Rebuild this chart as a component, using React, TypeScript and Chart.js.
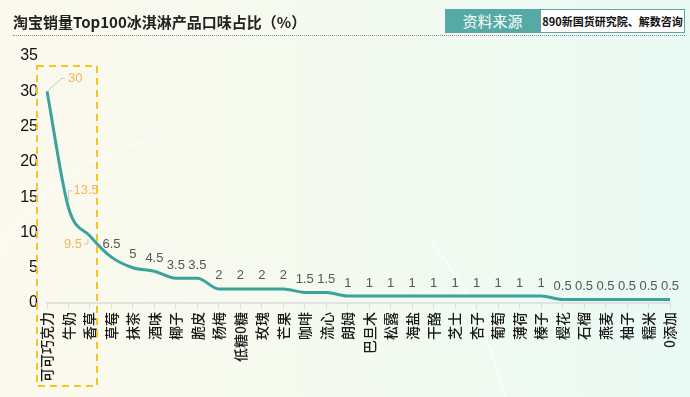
import React, { useEffect, useRef } from "react";
import { Chart, registerables } from "chart.js";

Chart.register(...registerables);

const categories = [
  "可可巧克力", "牛奶", "香草", "草莓", "抹茶", "酒味", "椰子", "脆皮", "杨梅", "低糖0糖",
  "玫瑰", "芒果", "咖啡", "流心", "朗姆", "巴旦木", "松露", "海盐", "干酪", "芝士",
  "杏子", "葡萄", "薄荷", "榛子", "樱花", "石榴", "燕麦", "柚子", "糯米", "0添加",
];
const values = [
  30, 13.5, 9.5, 6.5, 5, 4.5, 3.5, 3.5, 2, 2,
  2, 2, 1.5, 1.5, 1, 1, 1, 1, 1, 1,
  1, 1, 1, 1, 0.5, 0.5, 0.5, 0.5, 0.5, 0.5,
];
const highlightCount = 3;
const yMax = 35;
const yStep = 5;

const FONT = "'Liberation Sans', 'Noto Sans CJK SC', sans-serif";
const CJK = "'Noto Sans CJK SC', 'Liberation Sans', sans-serif";

const bgPlugin = {
  id: "bg",
  beforeDraw(chart: any) {
    const { ctx, width, height } = chart;
    ctx.save();
    const g = ctx.createLinearGradient(0, 0, width, 0);
    g.addColorStop(0, "#fcf9ee");
    g.addColorStop(0.5, "#f4faef");
    g.addColorStop(1, "#eafaf4");
    ctx.fillStyle = g;
    ctx.fillRect(0, 0, width, height);
    ctx.strokeStyle = "rgba(255,255,255,0.8)";
    ctx.lineWidth = 1.2;
    ctx.beginPath();
    ctx.moveTo(430, 240);
    ctx.quadraticCurveTo(480, 300, 505, 397);
    ctx.stroke();
    ctx.beginPath();
    ctx.moveTo(0, 250);
    ctx.quadraticCurveTo(60, 160, 150, 140);
    ctx.stroke();
    ctx.restore();
  },
};

const labelPlugin = {
  id: "vlabels",
  afterDatasetsDraw(chart: any) {
    const { ctx } = chart;
    const meta = chart.getDatasetMeta(0);
    ctx.save();
    ctx.font = `13px ${FONT}`;
    ctx.textBaseline = "middle";
    meta.data.forEach((pt: any, i: number) => {
      const v = values[i];
      const x = pt.x;
      const y = pt.y;
      if (i >= highlightCount) {
        ctx.fillStyle = "#555555";
        ctx.textAlign = "center";
        ctx.fillText(String(v), x, y - 13);
        return;
      }
      ctx.strokeStyle = "#c8c8c8";
      ctx.lineWidth = 1;
      ctx.fillStyle = "#f6b35c";
      ctx.beginPath();
      if (i === 0) {
        ctx.moveTo(x, y);
        ctx.lineTo(x + 15, y - 13);
        ctx.lineTo(x + 18, y - 13);
        ctx.stroke();
        ctx.textAlign = "left";
        ctx.fillText(String(v), x + 21, y - 13);
      } else if (i === 1) {
        ctx.moveTo(x, y - 5);
        ctx.lineTo(x, y - 17);
        ctx.lineTo(x + 4, y - 17);
        ctx.stroke();
        ctx.textAlign = "left";
        ctx.fillText(String(v), x + 5, y - 17);
      } else {
        ctx.moveTo(x - 2, y + 3);
        ctx.lineTo(x - 2, y + 8);
        ctx.lineTo(x - 6, y + 8);
        ctx.stroke();
        ctx.textAlign = "right";
        ctx.fillText(String(v), x - 8, y + 8);
      }
    });
    ctx.restore();
  },
};

const boxPlugin = {
  id: "hbox",
  afterDraw(chart: any) {
    const { ctx } = chart;
    const xs = chart.scales.x;
    const x0 = xs.getPixelForValue(0) - 10;
    const x1 = xs.getPixelForValue(highlightCount - 1) + 7;
    ctx.save();
    ctx.strokeStyle = "#f8c420";
    ctx.lineWidth = 2;
    ctx.setLineDash([7, 5]);
    ctx.strokeRect(x0, 66, x1 - x0, 320);
    ctx.restore();
  },
};

export default function App() {
  const ref = useRef<HTMLCanvasElement | null>(null);
  useEffect(() => {
    if (!ref.current) return;
    const chart = new Chart(ref.current, {
      type: "line",
      data: {
        labels: categories,
        datasets: [
          {
            data: values,
            borderColor: "#3ba39b",
            borderWidth: 3,
            pointRadius: 0,
            cubicInterpolationMode: "monotone",
            fill: false,
          },
        ],
      },
      options: {
        animation: false,
        responsive: false,
        devicePixelRatio: 1,
        layout: { padding: { top: 56, right: 20, bottom: 12, left: 0 } },
        plugins: { legend: { display: false }, tooltip: { enabled: false } },
        scales: {
          x: {
            offset: false,
            grid: {
              display: true,
              drawOnChartArea: false,
              drawTicks: true,
              tickLength: 6,
              color: "#dcdcdc",
            },
            border: { display: true, color: "#e2e2e2", width: 2 },
            ticks: {
              autoSkip: false,
              maxRotation: 90,
              minRotation: 90,
              padding: 3,
              color: "#1a1a1a",
              font: { family: CJK, size: 14, weight: "500" },
            },
          },
          y: {
            min: 0,
            max: yMax,
            afterFit(scale: any) {
              scale.width = 47;
            },
            grid: { display: false, drawTicks: false },
            border: { display: false },
            ticks: {
              stepSize: yStep,
              padding: 9,
              color: "#111111",
              font: { family: FONT, size: 16 },
            },
          },
        },
      },
      plugins: [bgPlugin, labelPlugin, boxPlugin],
    } as any);
    return () => chart.destroy();
  }, []);

  return (
    <div style={{ position: "fixed", left: 0, top: 0, width: 690, height: 397, overflow: "hidden" }}>
      <canvas ref={ref} width={690} height={397} style={{ position: "absolute", left: 0, top: 0 }} />
      <div
        style={{
          position: "absolute",
          left: 13,
          top: 11,
          fontFamily: CJK,
          fontWeight: 700,
          fontSize: 15,
          color: "#222",
          lineHeight: "22px",
          whiteSpace: "nowrap",
        }}
      >
        淘宝销量Top100冰淇淋产品口味占比（%）
      </div>
      <div style={{ position: "absolute", left: 13, top: 35, width: 672, borderTop: "1px dotted #8a8a8a" }} />
      <div
        style={{
          position: "absolute",
          left: 445,
          top: 9,
          width: 95,
          height: 24,
          background: "#55aaa6",
          color: "#fff",
          fontFamily: CJK,
          fontSize: 15,
          lineHeight: "24px",
          textAlign: "center",
        }}
      >
        资料来源
      </div>
      <div
        style={{
          position: "absolute",
          left: 540,
          top: 9,
          width: 143,
          height: 22,
          background: "#ffffff",
          border: "1px solid #55aaa6",
          color: "#111",
          fontFamily: CJK,
          fontWeight: 700,
          fontSize: 11,
          lineHeight: "22px",
          textAlign: "center",
          whiteSpace: "nowrap",
        }}
      >
        890新国货研究院、解数咨询
      </div>
    </div>
  );
}
